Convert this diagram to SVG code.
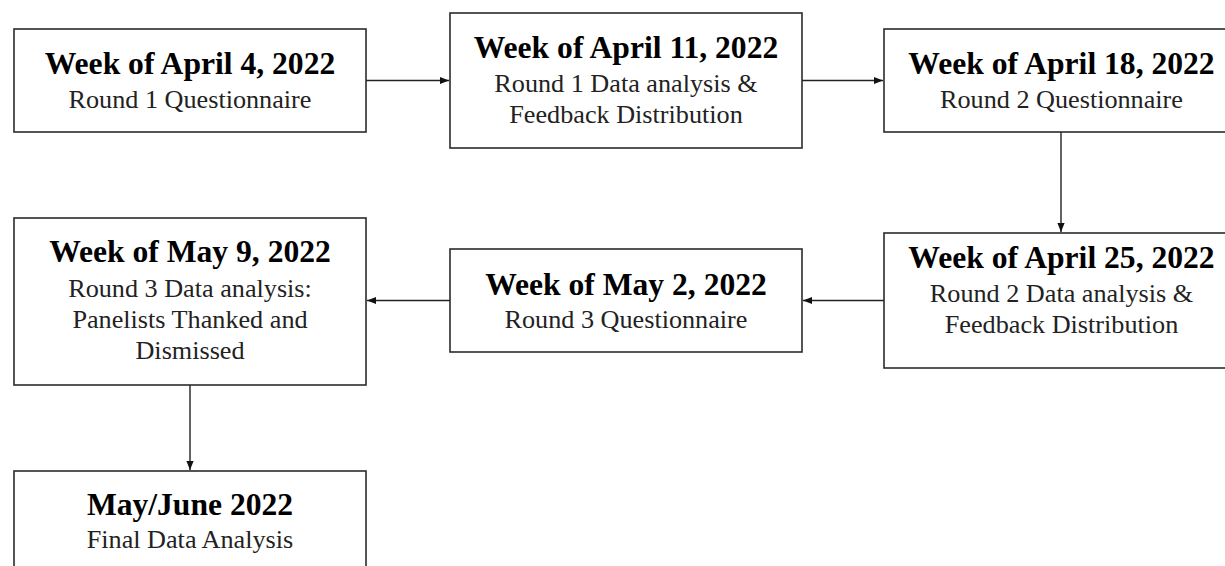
<svg xmlns="http://www.w3.org/2000/svg" width="1225" height="566" viewBox="0 0 1225 566">
<style>
.box{fill:#fff;stroke:#2b2b2b;stroke-width:1.6}
.t{font-family:"Liberation Serif","Times New Roman",serif;font-weight:bold;font-size:31.6px;fill:#000;text-anchor:middle}
.s{font-family:"Liberation Serif","Times New Roman",serif;font-size:26.2px;fill:#222;text-anchor:middle}
.c{fill:none;stroke:#222;stroke-width:1.4}
</style>
<defs>
<marker id="ah" viewBox="0 0 10 10" refX="10" refY="5" markerWidth="9" markerHeight="9" markerUnits="userSpaceOnUse" orient="auto">
<path d="M0,1 L10,5 L0,9 Z" fill="#111"/>
</marker>
</defs>
<rect width="1225" height="566" fill="#fff"/>
<g id="connectors">
<line class="c" x1="366" y1="80.5" x2="449" y2="80.5" marker-end="url(#ah)"/>
<line class="c" x1="802" y1="80.5" x2="883" y2="80.5" marker-end="url(#ah)"/>
<line class="c" x1="1061" y1="132" x2="1061" y2="232" marker-end="url(#ah)"/>
<line class="c" x1="884" y1="300.5" x2="803" y2="300.5" marker-end="url(#ah)"/>
<line class="c" x1="450" y1="300.5" x2="367" y2="300.5" marker-end="url(#ah)"/>
<line class="c" x1="190" y1="385" x2="190" y2="470" marker-end="url(#ah)"/>
</g>
<g id="n1">
<rect class="box" x="14" y="29" width="352" height="103"/>
<text class="t" x="190" y="74">Week of April 4, 2022</text>
<text class="s" x="190" y="108">Round 1 Questionnaire</text>
</g>
<g id="n2">
<rect class="box" x="450" y="13" width="352" height="135"/>
<text class="t" x="626" y="58">Week of April 11, 2022</text>
<text class="s" x="626" y="92">Round 1 Data analysis &amp;</text>
<text class="s" x="626" y="123">Feedback Distribution</text>
</g>
<g id="n3">
<rect class="box" x="884" y="29" width="355" height="103"/>
<text class="t" x="1061.5" y="74">Week of April 18, 2022</text>
<text class="s" x="1061.5" y="108">Round 2 Questionnaire</text>
</g>
<g id="n4">
<rect class="box" x="884" y="233" width="355" height="135"/>
<text class="t" x="1061.5" y="268">Week of April 25, 2022</text>
<text class="s" x="1061.5" y="302">Round 2 Data analysis &amp;</text>
<text class="s" x="1061.5" y="333">Feedback Distribution</text>
</g>
<g id="n5">
<rect class="box" x="450" y="249" width="352" height="103"/>
<text class="t" x="626" y="295">Week of May 2, 2022</text>
<text class="s" x="626" y="328">Round 3 Questionnaire</text>
</g>
<g id="n6">
<rect class="box" x="14" y="218" width="352" height="167"/>
<text class="t" x="190" y="262">Week of May 9, 2022</text>
<text class="s" x="190" y="297">Round 3 Data analysis:</text>
<text class="s" x="190" y="328">Panelists Thanked and</text>
<text class="s" x="190" y="359">Dismissed</text>
</g>
<g id="n7">
<rect class="box" x="14" y="471" width="352" height="110"/>
<text class="t" x="190" y="515">May/June 2022</text>
<text class="s" x="190" y="548">Final Data Analysis</text>
</g>
</svg>
